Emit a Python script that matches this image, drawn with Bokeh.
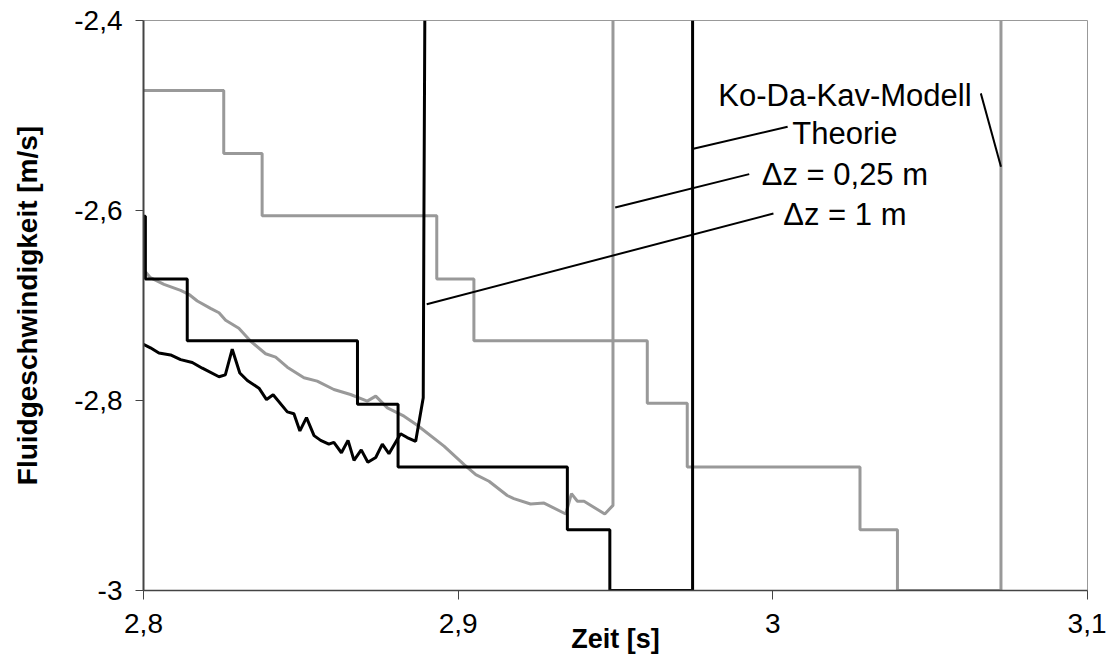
from bokeh.plotting import figure
from bokeh.models import Range1d, FixedTicker, CustomJSTickFormatter, ColumnDataSource
from bokeh.core.properties import value
from bokeh.embed import file_html
from bokeh.resources import INLINE

# ---- data (time in s, fluid velocity in m/s) ----
kodakav_t = [2.8, 2.8022, 2.8049, 2.8086, 2.8118, 2.8155, 2.8187, 2.824, 2.826, 2.8282,
             2.8306, 2.833, 2.8367, 2.8391, 2.8412, 2.8457, 2.8478, 2.8497, 2.8518, 2.8542,
             2.8563, 2.8589, 2.8605, 2.8629, 2.865, 2.8669, 2.8692, 2.8713, 2.8738, 2.8759,
             2.878, 2.8817, 2.8838, 2.8865, 2.8889, 2.8891, 2.8894]
kodakav_v = [-2.741, -2.7445, -2.750, -2.752, -2.757, -2.760, -2.766, -2.775, -2.773, -2.746,
             -2.771, -2.779, -2.787, -2.799, -2.794, -2.812, -2.814, -2.832, -2.818, -2.837,
             -2.842, -2.846, -2.844, -2.855, -2.842, -2.863, -2.852, -2.865, -2.860, -2.846,
             -2.856, -2.835, -2.839, -2.843, -2.797, -2.621, -2.4]

dz025_t = [2.8, 2.8022, 2.8065, 2.8118, 2.8144, 2.8171, 2.8213, 2.824, 2.8261, 2.8303,
           2.834, 2.8388, 2.842, 2.8457, 2.851, 2.8552, 2.8605, 2.8658, 2.8711, 2.8738,
           2.8775, 2.8828, 2.887, 2.8955, 2.9019, 2.9056, 2.9098, 2.9156, 2.9177, 2.923,
           2.9273, 2.9342, 2.936, 2.9379, 2.94, 2.9466, 2.9492, 2.9492]
dz025_v = [-2.662, -2.6707, -2.6777, -2.684, -2.6882, -2.6953, -2.703, -2.7076, -2.7156, -2.724,
           -2.7374, -2.7508, -2.7543, -2.7649, -2.7761, -2.7796, -2.7884, -2.7937, -2.8007, -2.7954,
           -2.8078, -2.8165, -2.826, -2.848, -2.8675, -2.878, -2.885, -2.9, -2.9033, -2.909,
           -2.908, -2.9195, -2.898, -2.906, -2.906, -2.9195, -2.9104, -2.4]

theorie_t = [2.8, 2.8006, 2.8139, 2.868, 2.8809, 2.9347, 2.9482, 2.9745]
theorie_v = [-2.606, -2.672, -2.737, -2.804, -2.870, -2.936, -3.0, -2.4]

dz1_t = [2.8, 2.8255, 2.8377, 2.8932, 2.905, 2.9601, 2.9728, 3.0277, 3.0396, 3.0725]
dz1_v = [-2.4738, -2.54, -2.6056, -2.672, -2.737, -2.803, -2.870, -2.936, -3.0, -2.4]

x_ticks = [2.8, 2.9, 3.0, 3.1]
y_ticks = [-3.0, -2.8, -2.6, -2.4]
x_title = "Zeit [s]"
y_title = "Fluidgeschwindigkeit [m/s]"

# annotation texts (centred block) and their leader lines
label_text = ["Ko-Da-Kav-Modell", "Theorie", "\u0394z = 0,25 m", "\u0394z = 1 m"]
label_t = [3.0229, 3.0229, 3.0229, 3.0229]
label_v = [-2.4791, -2.5188, -2.5617, -2.6038]
leader_t0 = [3.0661, 3.0047, 2.9925, 3.0002]
leader_v0 = [-2.4767, -2.5118, -2.5617, -2.6032]
leader_t1 = [3.0725, 2.9744, 2.9499, 2.8900]
leader_v1 = [-2.5540, -2.5353, -2.5969, -2.6987]

FONT = "Liberation Sans"
GRAY = "#999999"

p = figure(width=1106, height=659, output_backend="svg", toolbar_location=None,
           x_range=Range1d(2.8, 3.1), y_range=Range1d(-3.0, -2.4),
           min_border_left=143, min_border_right=19, min_border_top=20, min_border_bottom=69,
           background_fill_color="white", border_fill_color="white")
p.outline_line_color = GRAY
p.outline_line_width = 1
p.xgrid.visible = False
p.ygrid.visible = False

fmt = CustomJSTickFormatter(code="""
    const s = (Math.round(tick * 10) / 10).toString();
    return s.replace('.', ',');
""")

for ax in (p.xaxis[0], p.yaxis[0]):
    ax.formatter = fmt
    ax.minor_tick_line_color = None
    ax.major_tick_in = 0
    ax.axis_line_color = "#444444"
    ax.major_tick_line_color = "#444444"
    ax.major_label_text_font = FONT
    ax.major_label_text_font_size = "28px"
    ax.major_label_text_color = "black"
    ax.axis_label_text_font = FONT
    ax.axis_label_text_font_style = "bold"
    ax.axis_label_text_color = "black"

p.xaxis[0].ticker = FixedTicker(ticks=x_ticks)
p.yaxis[0].ticker = FixedTicker(ticks=y_ticks)
p.xaxis[0].major_tick_out = 9
p.yaxis[0].major_tick_out = 8
p.xaxis[0].axis_line_width = 1.5
p.yaxis[0].axis_line_width = 2
p.xaxis[0].major_label_standoff = 14
p.yaxis[0].major_label_standoff = 13

p.xaxis[0].axis_label = x_title
p.xaxis[0].axis_label_text_font_size = "27px"
p.xaxis[0].axis_label_standoff = -12
p.yaxis[0].axis_label = y_title
p.yaxis[0].axis_label_text_font_size = "28px"
p.yaxis[0].axis_label_standoff = 28

# series
p.line(dz025_t, dz025_v, line_color=GRAY, line_width=3)
p.step(dz1_t, dz1_v, mode="after", line_color=GRAY, line_width=3)
p.step(theorie_t, theorie_v, mode="after", line_color="black", line_width=3)
p.line(kodakav_t, kodakav_v, line_color="black", line_width=3)

# leader lines and labels
p.segment(x0=leader_t0, y0=leader_v0, x1=leader_t1, y1=leader_v1, line_color="black", line_width=2)
src = ColumnDataSource(dict(t=label_t, v=label_v, txt=label_text))
p.text(x="t", y="v", text="txt", source=src, text_align="center", text_baseline="alphabetic",
       text_font=value(FONT), text_font_size="31px", text_color="black")

open("out.html", "w").write(file_html(p, INLINE))
